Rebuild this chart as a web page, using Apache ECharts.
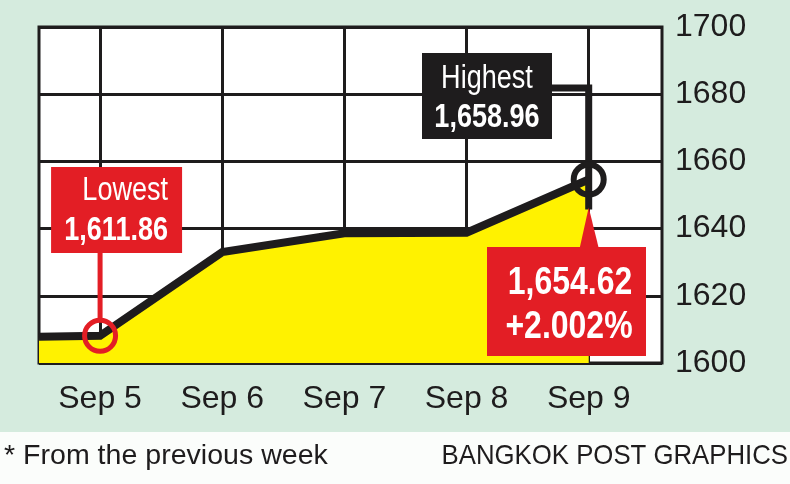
<!DOCTYPE html>
<html>
<head>
<meta charset="utf-8">
<script src="https://cdn.jsdelivr.net/npm/echarts@6/dist/echarts.min.js"></script>
<style>
  html, body { margin: 0; padding: 0; background: #d5ebde; }
  #chart { width: 790px; height: 484px; }
</style>
</head>
<body>
<div id="chart"></div>
<script>
// data
var days = ['Sep 5', 'Sep 6', 'Sep 7', 'Sep 8', 'Sep 9'];
var closes = [1608.1, 1633.0, 1638.6, 1638.8, 1654.62];
var prevWeekClose = 1607.8;   // flat segment before Sep 5
var yTicks = [1600, 1620, 1640, 1660, 1680, 1700];
var lowest = '1,611.86';
var highest = '1,658.96';
var lastClose = '1,654.62';
var change = '+2.002%';

var font = '"Liberation Sans", Arial, sans-serif';
var ink = '#1e1c1d';
var red = '#e31e25';

var lineData = [[-0.5, prevWeekClose]];
closes.forEach(function (v, i) { lineData.push([i, v]); });

var chart = echarts.init(document.getElementById('chart'));

var option = {
  backgroundColor: '#d5ebde',
  animation: false,
  grid: {
    left: 39, right: 128, top: 27, bottom: 121,
    show: true,
    backgroundColor: '#ffffff',
    borderColor: ink,
    borderWidth: 3
  },
  xAxis: {
    type: 'value',
    min: -0.5,
    max: 4.6,
    axisLine: { show: false },
    axisTick: { show: false, customValues: [0, 1, 2, 3, 4] },
    axisLabel: {
      customValues: [0, 1, 2, 3, 4],
      formatter: function (v) { return days[v]; },
      color: ink,
      fontFamily: font,
      fontSize: 32,
      margin: 20
    },
    splitLine: { show: true, lineStyle: { color: ink, width: 3 } }
  },
  yAxis: {
    type: 'value',
    position: 'right',
    min: yTicks[0],
    max: yTicks[yTicks.length - 1],
    interval: 20,
    axisLine: { show: false },
    axisTick: { show: false },
    axisLabel: {
      formatter: function (v) { return String(v); },
      color: ink,
      fontFamily: font,
      fontSize: 32,
      margin: 13
    },
    splitLine: { show: true, lineStyle: { color: ink, width: 3 } }
  },
  series: [
    {
      type: 'line',
      data: lineData,
      symbol: 'none',
      z: 3,
      lineStyle: { color: ink, width: 8, join: 'miter' },
      areaStyle: { color: '#fff200', opacity: 1, origin: 'start' }
    }
  ]
};
chart.setOption(option);

// annotations hung on the data points
var p5 = chart.convertToPixel({ seriesIndex: 0 }, [0, closes[0]]);
var p9 = chart.convertToPixel({ seriesIndex: 0 }, [4, closes[4]]);

// narrow text: Arial squeezed to look like the condensed face
function txt(x, y, s, size, weight, align, color, sx) {
  return {
    type: 'text', z: 20, x: x, y: y, scaleX: sx || 0.82,
    style: {
      x: 0, y: 0, text: s, fill: color || '#ffffff',
      font: (weight || 'normal') + ' ' + size + 'px ' + font,
      align: align || 'center', verticalAlign: 'middle'
    }
  };
}

chart.setOption({
  graphic: [
    // white footer strip
    { type: 'rect', z: -1, shape: { x: 0, y: 432, width: 790, height: 52 }, style: { fill: '#fbfdfb' } },
    txt(4, 456, '* From the previous week', 28, 'normal', 'left', ink, 1.02),
    txt(788, 456, 'BANGKOK POST GRAPHICS', 28, 'normal', 'right', ink, 0.92),

    // lowest
    { type: 'line', z: 10, shape: { x1: p5[0], y1: 250, x2: p5[0], y2: p5[1] - 15 }, style: { stroke: red, lineWidth: 5 } },
    { type: 'rect', z: 11, shape: { x: p5[0] - 49, y: 167, width: 131, height: 86 }, style: { fill: red } },
    txt(p5[0] + 68, 191, 'Lowest', 33, 'normal', 'right'),
    txt(p5[0] + 68, 231, lowest, 33, 'bold', 'right'),
    { type: 'circle', z: 12, shape: { cx: p5[0], cy: p5[1], r: 15.5 }, style: { fill: 'none', stroke: red, lineWidth: 5 } },

    // highest
    { type: 'polyline', z: 10, shape: { points: [[550, 88], [p9[0], 88], [p9[0], p9[1] + 30]] }, style: { stroke: ink, lineWidth: 7, fill: 'none' } },
    { type: 'rect', z: 11, shape: { x: 422, y: 53, width: 130, height: 86 }, style: { fill: ink } },
    txt(487, 79, 'Highest', 33, 'normal', 'center'),
    txt(487, 118, highest, 33, 'bold', 'center'),
    { type: 'circle', z: 12, shape: { cx: p9[0], cy: p9[1], r: 15 }, style: { fill: 'none', stroke: ink, lineWidth: 6 } },

    // last close
    { type: 'polygon', z: 11, shape: { points: [[p9[0], p9[1] + 28], [p9[0] - 9, 248], [p9[0] + 10, 248]] }, style: { fill: red } },
    { type: 'rect', z: 11, shape: { x: 487, y: 247, width: 159, height: 109 }, style: { fill: red } },
    txt(570, 283, lastClose, 39, 'bold', 'center'),
    txt(569, 327, change, 39, 'bold', 'center')
  ]
});
</script>
</body>
</html>
